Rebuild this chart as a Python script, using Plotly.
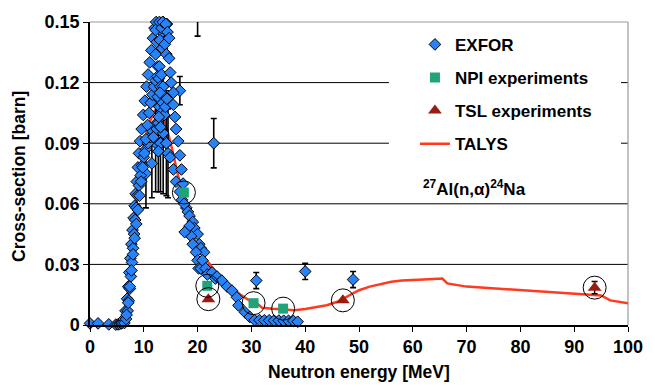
import plotly.graph_objects as go

# ---------------- data ----------------
# EXFOR points without error bars (energy MeV, cross-section barn)
exfor_low_x = [0.0, 1.5, 3.5, 4.8, 5.2, 5.5, 5.8]
exfor_low_y = [0.0008, 0.0008, 0.0003, 0.0002, 0.0003, 0.0005, 0.0008]

exfor_rise_x = [6.0, 6.3, 6.6, 6.9, 7.1, 7.3, 7.5, 7.7, 7.9, 8.1, 8.3, 8.5, 8.7, 8.9,
                9.1, 9.3, 9.6, 9.9, 10.2, 10.5, 10.8, 11.1, 11.4, 11.7, 12.0, 12.3]
exfor_rise_y = [0.001, 0.003, 0.007, 0.013, 0.019, 0.026, 0.033, 0.040, 0.047, 0.053,
                0.059, 0.065, 0.071, 0.078, 0.085, 0.091, 0.097, 0.104, 0.111, 0.118,
                0.124, 0.130, 0.136, 0.142, 0.147, 0.150]

exfor_rise2_x = [6.4, 6.7, 7.0, 7.2, 7.4, 7.6, 7.8, 8.0, 8.2, 8.4, 8.6, 8.8, 9.1, 9.4,
                 9.7, 10.0, 10.4, 10.8, 11.2, 11.6, 11.8, 12.0, 12.2, 12.4, 12.7]
exfor_rise2_y = [0.001, 0.003, 0.007, 0.012, 0.018, 0.024, 0.031, 0.038, 0.045, 0.052,
                 0.058, 0.064, 0.069, 0.074, 0.079, 0.083, 0.087, 0.090, 0.093, 0.096,
                 0.093, 0.099, 0.110, 0.097, 0.100]

exfor_rise3_x = [6.8, 7.1, 7.4, 7.7, 8.0, 8.3, 8.6, 8.9, 9.2, 9.5, 9.8, 10.1, 10.4,
                 10.7, 11.0, 11.3, 11.6, 11.9, 12.2, 12.5, 12.8, 13.1, 13.4]
exfor_rise3_y = [0.005, 0.011, 0.019, 0.027, 0.035, 0.043, 0.050, 0.057, 0.064, 0.071,
                 0.078, 0.085, 0.092, 0.099, 0.105, 0.110, 0.114, 0.118, 0.121, 0.123,
                 0.122, 0.118, 0.112]

exfor_peak_x = [12.2, 12.4, 12.2, 12.6, 12.9, 13.1, 13.3, 13.5, 13.8, 14.1, 14.4, 13.0,
                13.4, 13.9, 14.2, 12.9, 13.3, 13.6, 13.1, 12.6, 12.9, 13.2, 13.5, 13.8,
                14.0, 14.3, 12.8, 13.0]
exfor_peak_y = [0.146, 0.140, 0.134, 0.128, 0.150, 0.152, 0.147, 0.150, 0.151, 0.149,
                0.145, 0.141, 0.137, 0.139, 0.134, 0.128, 0.124, 0.118, 0.098, 0.113,
                0.108, 0.105, 0.110, 0.104, 0.108, 0.112, 0.103, 0.115]

exfor_fall_x = [14.7, 14.7, 14.9, 15.1, 15.5, 15.5, 15.8, 16.0, 16.4, 16.7, 17.0, 17.3,
                17.9, 18.2, 18.5, 19.1, 19.4, 20.0, 20.3, 20.6, 21.2,
                18.5, 18.8, 19.1, 19.7, 20.0, 20.2, 17.6, 17.5]
exfor_fall_y = [0.142, 0.132, 0.125, 0.120, 0.115, 0.109, 0.103, 0.097, 0.091, 0.084,
                0.077, 0.070, 0.058, 0.056, 0.054, 0.051, 0.048, 0.045, 0.040, 0.038,
                0.036, 0.049, 0.044, 0.040, 0.036, 0.032, 0.028, 0.046, 0.060]

exfor_inner_x = [13.6, 14.2, 14.9, 15.5, 16.0, 16.7, 17.1, 12.7, 11.8, 13.1]
exfor_inner_y = [0.095, 0.090, 0.083, 0.077, 0.071, 0.066, 0.062, 0.086, 0.093, 0.098]

exfor_tail_x = [20.6, 20.9, 21.5, 21.8, 22.7, 23.3, 23.6, 24.5, 25.5, 26.4, 27.3, 27.6,
                28.8, 29.7, 30.6, 31.5, 32.4, 33.3, 34.2, 35.1, 36.0, 36.9, 37.8, 38.6]
exfor_tail_y = [0.028, 0.032, 0.028, 0.025, 0.026, 0.023, 0.024, 0.022, 0.019, 0.017,
                0.0137, 0.0097, 0.0063, 0.004, 0.0024, 0.0024, 0.0023, 0.0023, 0.0022,
                0.0022, 0.0021, 0.0021, 0.0020, 0.0016]

# EXFOR points with error bars
exfor_err_x = [10.4, 11.5, 12.2, 12.7, 13.1, 13.6, 14.2, 14.5, 13.4, 13.6, 13.9, 14.1,
               14.3, 16.7, 23.0, 30.9, 40.0, 48.9]
exfor_err_y = [0.075, 0.080, 0.090, 0.086, 0.090, 0.095, 0.090, 0.085, 0.145, 0.150,
               0.148, 0.152, 0.149, 0.116, 0.090, 0.022, 0.0265, 0.0225]
exfor_err = [0.017, 0.017, 0.024, 0.020, 0.024, 0.030, 0.026, 0.022, 0.006, 0.008,
             0.006, 0.007, 0.007, 0.007, 0.0122, 0.004, 0.004, 0.004]

# off-scale EXFOR point (only the lower part of its error bar is visible)
exfor_off_x = [20.0]
exfor_off_y = [0.158]
exfor_off_err = [0.015]

npi_x = [17.45, 21.8, 30.4, 35.9]
npi_y = [0.0656, 0.0194, 0.0108, 0.0081]

tsl_x = [22.0, 47.0, 93.8]
tsl_y = [0.0128, 0.0122, 0.0185]
tsl_err = [0.0, 0.0, 0.003]

talys_x = [5, 6, 7, 8, 9, 10, 11, 12, 13, 14, 15, 16, 17, 18, 19, 20, 21, 22, 24,
           26, 28, 30, 31, 32, 34, 36, 38, 40, 42, 44, 46, 48, 50, 52, 54, 56, 58,
           60, 62, 65.5, 66.4, 70, 74, 80, 86, 92, 95, 96.7, 100]
talys_y = [0.0, 0.002, 0.015, 0.040, 0.070, 0.090, 0.100, 0.106, 0.107, 0.100,
           0.090, 0.078, 0.066, 0.055, 0.046, 0.038, 0.034, 0.031, 0.024, 0.019,
           0.015, 0.0115, 0.0108, 0.0085, 0.0080, 0.0075, 0.0073, 0.0079, 0.0088,
           0.0098, 0.0115, 0.0145, 0.0172, 0.0190, 0.0203, 0.0214, 0.0220, 0.0224,
           0.0225, 0.0230, 0.0206, 0.0190, 0.0183, 0.0170, 0.0159, 0.0150, 0.0146,
           0.0122, 0.0108]

x_ticks = [0, 10, 20, 30, 40, 50, 60, 70, 80, 90, 100]
y_ticks = [0, 0.03, 0.06, 0.09, 0.12, 0.15]
y_tick_text = ["0", "0.03", "0.06", "0.09", "0.12", "0.15"]
grid_values = [0.03, 0.06, 0.09, 0.12]

# ---------------- style ----------------
BLUE = "#2a82f7"
GREEN = "#1fa37a"
DARKRED = "#9a1b0f"
RED = "#ff3a1f"
FONT = "Liberation Sans, Arial, sans-serif"

exfor_x = (exfor_low_x + exfor_rise_x + exfor_rise2_x + exfor_rise3_x + exfor_inner_x
           + exfor_peak_x + exfor_fall_x + exfor_tail_x)
exfor_y = (exfor_low_y + exfor_rise_y + exfor_rise2_y + exfor_rise3_y + exfor_inner_y
           + exfor_peak_y + exfor_fall_y + exfor_tail_y)

diamond = dict(symbol="diamond", size=9, color=BLUE, line=dict(color="black", width=1))
errstyle = dict(type="data", visible=True, color="black", thickness=1.6, width=3)

fig = go.Figure()

fig.add_trace(go.Scatter(x=talys_x, y=talys_y, mode="lines", name="TALYS",
                         line=dict(color=RED, width=2.5), legendrank=4,
                         legendgroup="d"))
fig.add_trace(go.Scatter(x=exfor_err_x, y=exfor_err_y, mode="markers", marker=diamond,
                         error_y=dict(array=exfor_err, **errstyle), showlegend=False,
                         cliponaxis=False, legendgroup="a"))
fig.add_trace(go.Scatter(x=exfor_off_x, y=exfor_off_y, mode="markers", marker=diamond,
                         error_y=dict(array=exfor_off_err, **errstyle), showlegend=False,
                         cliponaxis=True, legendgroup="a"))
fig.add_trace(go.Scatter(x=exfor_x, y=exfor_y, mode="markers", name="EXFOR",
                         marker=diamond, cliponaxis=False, legendrank=1,
                         legendgroup="a"))
fig.add_trace(go.Scatter(x=npi_x, y=npi_y, mode="markers", name="NPI experiments",
                         marker=dict(symbol="square", size=10, color=GREEN),
                         legendrank=2, legendgroup="b"))
fig.add_trace(go.Scatter(x=tsl_x, y=tsl_y, mode="markers", name="TSL experiments",
                         marker=dict(symbol="triangle-up", size=12, color=DARKRED),
                         error_y=dict(array=tsl_err, type="data", color="black",
                                      thickness=1.5, width=3),
                         legendrank=3, legendgroup="c"))
fig.add_trace(go.Scatter(x=npi_x + tsl_x, y=npi_y + tsl_y, mode="markers",
                         marker=dict(symbol="circle-open", size=23, color="black",
                                     line=dict(width=1)),
                         showlegend=False, hoverinfo="skip"))

shapes = []
for v in grid_values:
    shapes.append(dict(type="line", xref="x domain", yref="y", x0=0, x1=1, y0=v, y1=v,
                       line=dict(color="black", width=1), layer="below"))
# top / right frame (grey)
shapes.append(dict(type="line", xref="x domain", yref="y domain", x0=0, x1=1, y0=1, y1=1,
                   line=dict(color="#9a9a9a", width=1.2), layer="below"))
shapes.append(dict(type="line", xref="x domain", yref="y domain", x0=1, x1=1, y0=0, y1=1,
                   line=dict(color="#9a9a9a", width=1.2), layer="below"))
# white box behind legend / label
shapes.append(dict(type="rect", xref="x domain", yref="y domain", x0=0.5556, x1=0.987,
                   y0=0.42, y1=0.985, fillcolor="white", line=dict(width=0),
                   layer="below"))

fig.update_layout(
    width=655, height=387,
    margin=dict(l=90, r=16, t=16, b=62),
    paper_bgcolor="white", plot_bgcolor="white",
    font=dict(family=FONT, size=17, color="black", weight="bold"),
    shapes=shapes,
    showlegend=True,
    legend=dict(x=0.604, y=0.984, xanchor="left", yanchor="top", bgcolor="rgba(0,0,0,0)",
                borderwidth=0, tracegroupgap=8,
                font=dict(family=FONT, size=17, color="black", weight="bold")),
    xaxis=dict(range=[0, 100], tickvals=x_ticks, showgrid=False, zeroline=False,
               showline=True, linecolor="black", linewidth=1.5, ticks="outside",
               ticklen=5, tickcolor="black", tickwidth=1.2,
               tickfont=dict(family=FONT, size=18, weight="bold")),
    yaxis=dict(range=[0, 0.15], tickvals=y_ticks, ticktext=y_tick_text, showgrid=False,
               zeroline=False, showline=True, linecolor="black", linewidth=1.5,
               ticks="outside", ticklen=5, tickcolor="black", tickwidth=1.2,
               tickfont=dict(family=FONT, size=18, weight="bold")),
    annotations=[
        dict(text="Neutron energy [MeV]", xref="paper", yref="paper", x=(364.5 - 90) / 549,
             y=-(373 - 325) / 309, xanchor="center", yanchor="middle", showarrow=False,
             font=dict(family=FONT, size=17.5, weight="bold")),
        dict(text="Cross-section [barn]", xref="paper", yref="paper", x=-(90 - 18) / 549,
             y=(325 - 173.5) / 309, xanchor="center", yanchor="middle", textangle=-90,
             showarrow=False, font=dict(family=FONT, size=17.5, weight="bold")),
        dict(text="<sup>27</sup>Al(n,\u03b1)<sup>24</sup>Na", xref="paper", yref="paper",
             x=(482 - 90) / 549, y=(325 - 185) / 309, xanchor="center", yanchor="middle",
             showarrow=False, font=dict(family=FONT, size=17, weight="bold")),
    ],
)

fig.write_html("out.html")
